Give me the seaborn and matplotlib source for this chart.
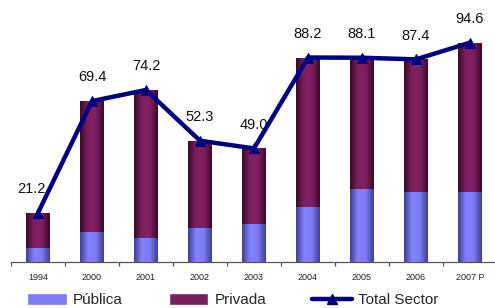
import numpy as np
import matplotlib
matplotlib.use('Agg')
import matplotlib.pyplot as plt
import seaborn as sns
from matplotlib.colors import LinearSegmentedColormap
from matplotlib.patches import Patch
from matplotlib.lines import Line2D

# data
years = ['1994', '2000', '2001', '2002', '2003', '2004', '2005', '2006', '2007 P']
total = [21.2, 69.4, 74.2, 52.3, 49.0, 88.2, 88.1, 87.4, 94.6]
publica = [6.0, 13.1, 10.4, 14.7, 16.4, 23.8, 31.6, 30.3, 30.3]

col_pub = '#7c7cf8'
col_pri = '#7a1f5c'
col_line = '#000080'

sns.set_style('white')
plt.rcParams['font.family'] = ['Liberation Sans', 'DejaVu Sans']

fig = plt.figure(figsize=(4.95, 3.08), dpi=100)
ax = fig.add_axes([11 / 495, 46 / 308, 486 / 495, 262 / 308])

# Privada is drawn as the full stack, Pública on top of it from the base
sns.barplot(x=years, y=total, color=col_pri, width=0.44, ax=ax, saturation=1)
sns.barplot(x=years, y=publica, color=col_pub, width=0.44, ax=ax, saturation=1)

# horizontal shading inside each bar
cm_pri = LinearSegmentedColormap.from_list('pri', ['#3a0a2a', '#7e2060', '#801f60', '#3a0a2a'])
cm_pub = LinearSegmentedColormap.from_list('pub', ['#3e3e90', '#8282ff', '#7c7cf6', '#3e3e90'])
grad = np.linspace(0, 1, 64).reshape(1, -1)
n = len(years)
for i, p in enumerate(ax.patches):
    x0, y0 = p.get_x(), p.get_y()
    w, h = p.get_width(), p.get_height()
    cm = cm_pri if i < n else cm_pub
    im = ax.imshow(grad, cmap=cm, aspect='auto', extent=[x0, x0 + w, y0, y0 + h],
                   zorder=p.get_zorder() + 0.01 * (i >= n), interpolation='bicubic')
    im.set_clip_path(p)

sns.lineplot(x=years, y=total, sort=False, color=col_line, lw=3.2, marker='^',
             markersize=7, markeredgecolor=col_line, ax=ax, zorder=5)

for i, v in enumerate(total):
    ax.annotate(f'{v:.1f}', (i, v), xytext=(-5 if i == 0 else 0, 17), textcoords='offset points',
                ha='center', va='center', fontsize=10.5, color='#111111')

ax.set_xlim(-0.5, n - 0.5)
ax.set_ylim(0, 113)
ax.set_yticks([])
ax.set_ylabel('')
for s in ['top', 'right', 'left']:
    ax.spines[s].set_visible(False)
ax.spines['bottom'].set_color('#555555')
ax.spines['bottom'].set_linewidth(0.9)

ax.set_xticks(np.arange(-0.5, n, 1.0))
ax.set_xticklabels([])
ax.set_xticks(np.arange(n), minor=True)
ax.set_xticklabels(years, minor=True, fontsize=6.5)
ax.tick_params(axis='x', which='major', direction='out', length=3, color='#555555', width=0.9, bottom=True)
ax.tick_params(axis='x', which='minor', length=0, pad=8, labelcolor='#222222')

handles = [Patch(facecolor=col_pub), Patch(facecolor=col_pri),
           Line2D([], [], color=col_line, lw=3.2, marker='^', markersize=7)]
fig.legend(handles, ['Pública', 'Privada', 'Total Sector'], ncol=3, loc='center',
           bbox_to_anchor=(0.47, 0.025), frameon=False, fontsize=11,
           handlelength=2.6, handleheight=0.8, handletextpad=0.4, columnspacing=3.0)

fig.savefig('out.png', dpi=100)
